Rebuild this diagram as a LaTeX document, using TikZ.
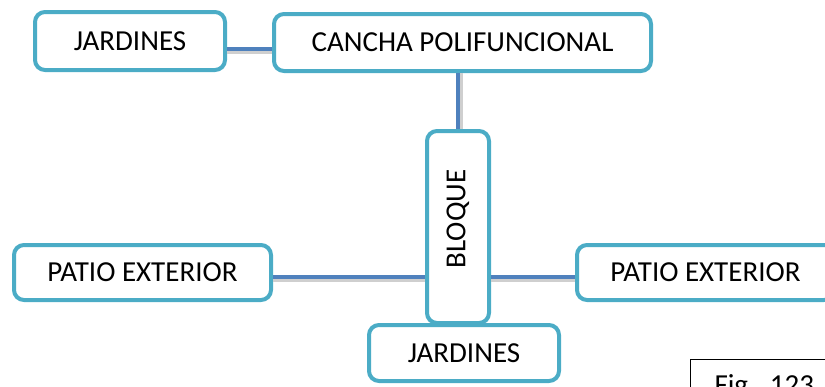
\documentclass[tikz,border=0pt]{standalone}
\usepackage{fontspec}
\setmainfont{Carlito}
\usetikzlibrary{positioning, calc}
\definecolor{aqua}{HTML}{4BACC6}
\definecolor{lnblue}{HTML}{4F81BD}
\definecolor{shadowgray}{HTML}{CFCFCF}

\begin{document}
\begin{tikzpicture}[
  x=1pt, y=-1pt,
  box/.style={draw=aqua, line width=4pt, fill=white, rounded corners=10pt,
    font=\fontsize{29}{34}\selectfont, text=black, align=center, inner sep=0pt},
  conn/.style={draw=lnblue, line width=3.5pt},
  shd/.style={draw=shadowgray, line width=4pt},
  figbox/.style={draw=black, line width=1pt, fill=white, anchor=north west,
    font=\fontsize{29}{34}\selectfont, inner xsep=24pt, inner ysep=15pt,
    text width=130pt},
]

% Frame
\useasboundingbox (0,0) rectangle (825,386);

% === Top row ===
\node[box, minimum width=190, minimum height=58] (jard_top) at (130,41) {JARDINES};
\node[box, minimum width=377, minimum height=57] (cancha) at (462.5,42.5) {CANCHA POLIFUNCIONAL};

% === Centre block ===
\node[box, minimum width=62, minimum height=192] (bloque) at (458,227)
  {\rotatebox{90}{\hspace*{16pt}BLOQUE}};

% === Sides ===
\node[box, minimum width=257, minimum height=55] (patio_left) at (142.5,272.5) {PATIO EXTERIOR};
\node[box, minimum width=257, minimum height=55] (patio_right) at (705.5,272.5) {PATIO EXTERIOR};

% === Bottom ===
\node[box, minimum width=190, minimum height=56] (jard_bot) at (464,353) {JARDINES};

% Figure caption box (cut by the page)
\node[figbox] (fig) at (690,359) {Fig. 123};

% === Connectors (shadow first) ===
\draw[shd] ([yshift=-3pt]jard_top.east |- 0,49) -- ([yshift=-3pt]cancha.west |- 0,49);
\draw[conn] (jard_top.east |- 0,49) -- (cancha.west |- 0,49);

\draw[shd] ([xshift=3pt]cancha.south -| bloque.north) -- ([xshift=3pt]bloque.north);
\draw[conn] (cancha.south -| bloque.north) -- (bloque.north);

\draw[shd] ([yshift=-3pt]patio_left.east |- 0,277) -- ([yshift=-3pt]bloque.west |- 0,277);
\draw[conn] (patio_left.east |- 0,277) -- (bloque.west |- 0,277);

\draw[shd] ([yshift=-3pt]bloque.east |- 0,277) -- ([yshift=-3pt]patio_right.west |- 0,277);
\draw[conn] (bloque.east |- 0,277) -- (patio_right.west |- 0,277);

\end{tikzpicture}
\end{document}
